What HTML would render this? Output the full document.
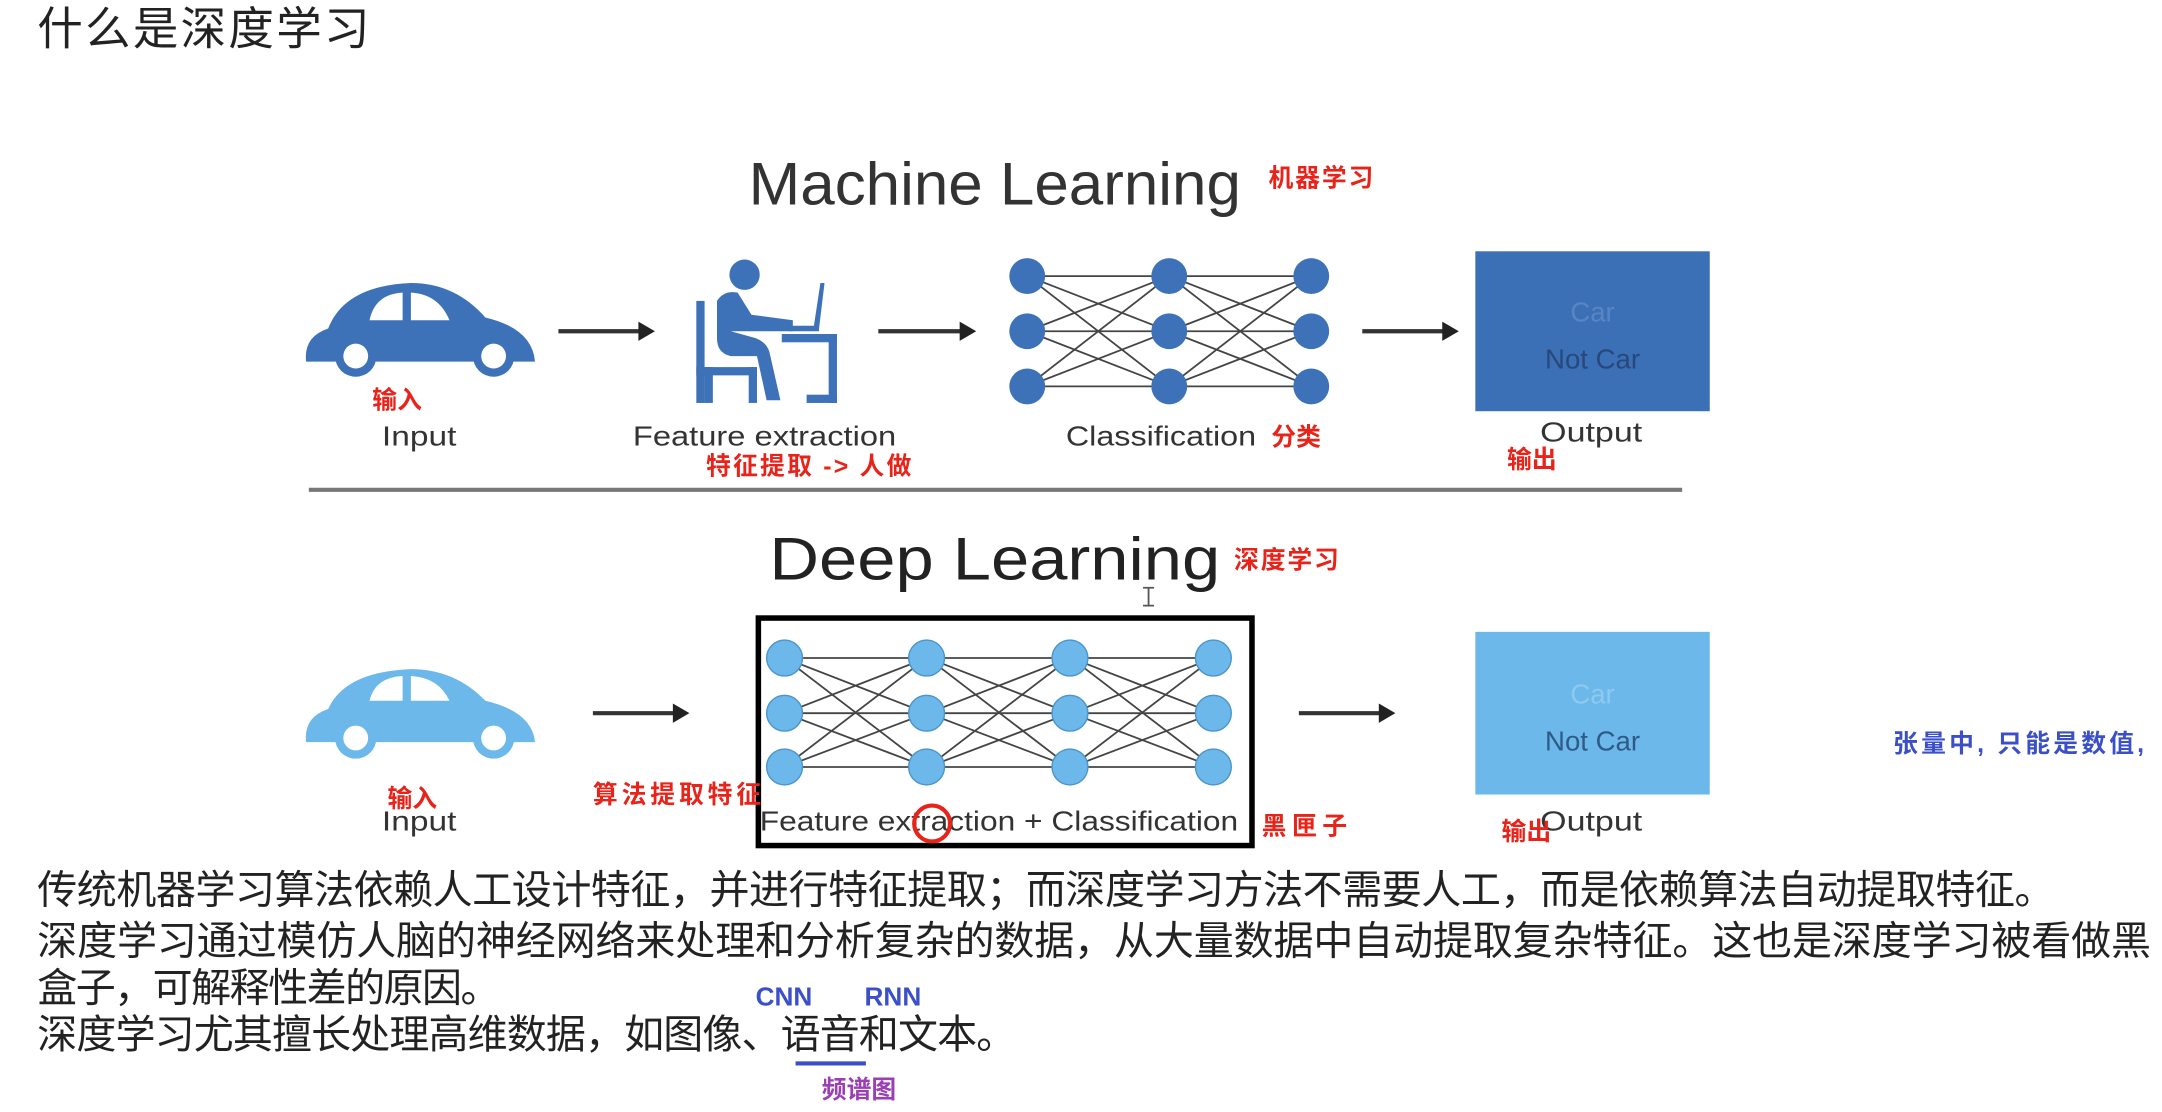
<!DOCTYPE html>
<html><head><meta charset="utf-8"><style>
html,body{margin:0;padding:0;background:#fff;width:2162px;height:1112px;overflow:hidden}
svg{display:block}
.en{font-family:"Liberation Sans","DejaVu Sans",sans-serif}
.cn{font-family:"Liberation Sans","Noto Sans CJK SC",sans-serif}
</style></head><body>
<svg width="2162" height="1112" viewBox="0 0 1568 806" xmlns="http://www.w3.org/2000/svg">
<rect width="1568" height="806" fill="#fff"/>
<text x="27" y="32" class="cn" font-size="33" fill="#222" textLength="241">什么是深度学习</text>

<!-- Machine Learning -->
<text x="543" y="148" class="en" font-size="44" fill="#333" textLength="357" lengthAdjust="spacingAndGlyphs">Machine Learning</text>
<text x="920" y="135" class="cn" font-size="18" font-weight="bold" fill="#e8231a" textLength="76">机器学习</text>

<g fill="#3d72b8">
<path d="M222,262 Q220,244 238,238 Q250,207 298,205 Q330,205 352,230 Q386,238 388,262 Z"/>
</g>
<path d="M268,232 Q272,213 292,212 L292,232 Z M298,212 Q318,213 326,232 L298,232 Z" fill="#fff"/>
<circle cx="258" cy="258" r="15" fill="#3d72b8"/><circle cx="258" cy="258" r="9" fill="#fff"/>
<circle cx="358" cy="258" r="15" fill="#3d72b8"/><circle cx="358" cy="258" r="9" fill="#fff"/>

<g stroke="#333" stroke-width="3">
<line x1="405" y1="240" x2="465" y2="240"/><line x1="637" y1="240" x2="698" y2="240"/><line x1="988" y1="240" x2="1048" y2="240"/>
</g>
<g fill="#222"><path d="M463,233 L475,240 L463,247Z"/><path d="M696,233 L708,240 L696,247Z"/><path d="M1046,233 L1058,240 L1046,247Z"/></g>

<!-- person -->
<g fill="#3d72b8">
<circle cx="540" cy="199" r="11"/>
<path d="M520,218 Q525,210 535,212 L545,228 L575,232 L575,240 L545,240 L530,240 L548,245 Q556,248 558,255 L566,290 L556,290 L549,258 L530,258 Q520,256 520,245 Z"/>
<rect x="505" y="218" width="6" height="74"/>
<rect x="505" y="266" width="44" height="6"/><rect x="511" y="266" width="6" height="26"/><rect x="543" y="266" width="6" height="26"/>
<rect x="567" y="242" width="40" height="6"/><rect x="601" y="242" width="6" height="50"/><rect x="585" y="286" width="22" height="6"/>
<path d="M590,238 L595,205 L598,205 L594,238Z"/>
<rect x="572" y="236" width="22" height="4"/>
</g>

<!-- ML network -->
<g stroke="#444" stroke-width="1.3">
<g id="lay1">
<line x1="745" y1="200" x2="848" y2="200"/><line x1="745" y1="200" x2="848" y2="240"/><line x1="745" y1="200" x2="848" y2="280"/>
<line x1="745" y1="240" x2="848" y2="200"/><line x1="745" y1="240" x2="848" y2="240"/><line x1="745" y1="240" x2="848" y2="280"/>
<line x1="745" y1="280" x2="848" y2="200"/><line x1="745" y1="280" x2="848" y2="240"/><line x1="745" y1="280" x2="848" y2="280"/>
</g>
<use href="#lay1" x="103"/>
</g>
<g fill="#3d72b8">
<circle cx="745" cy="200" r="13"/><circle cx="745" cy="240" r="13"/><circle cx="745" cy="280" r="13"/>
<circle cx="848" cy="200" r="13"/><circle cx="848" cy="240" r="13"/><circle cx="848" cy="280" r="13"/>
<circle cx="951" cy="200" r="13"/><circle cx="951" cy="240" r="13"/><circle cx="951" cy="280" r="13"/>
</g>

<rect x="1070" y="182" width="170" height="116" fill="#3b6fb6"/>
<text x="1155" y="233" class="en" font-size="20" fill="#5a85c4" text-anchor="middle">Car</text>
<text x="1155" y="267" class="en" font-size="20" fill="#27487a" text-anchor="middle">Not Car</text>

<g class="en" font-size="20" fill="#333">
<text x="277" y="323" textLength="54" lengthAdjust="spacingAndGlyphs">Input</text>
<text x="459" y="323" textLength="191" lengthAdjust="spacingAndGlyphs">Feature extraction</text>
<text x="773" y="323" textLength="138" lengthAdjust="spacingAndGlyphs">Classification</text>
<text x="1117" y="320" textLength="74" lengthAdjust="spacingAndGlyphs">Output</text>
</g>
<g class="cn" font-size="18" font-weight="bold" fill="#e8231a">
<text x="270" y="296">输入</text>
<text x="922" y="323">分类</text>
<text x="512" y="344" textLength="149">特征提取 -&gt; 人做</text>
<text x="1093" y="339">输出</text>
</g>

<line x1="224" y1="355" x2="1220" y2="355" stroke="#777" stroke-width="3"/>

<!-- Deep Learning -->
<text x="558" y="420" class="en" font-size="44" fill="#222" textLength="327" lengthAdjust="spacingAndGlyphs">Deep Learning</text>
<text x="895" y="412" class="cn" font-size="18" font-weight="bold" fill="#e8231a" textLength="76">深度学习</text>
<path d="M829,426 L837,426 M833,426 L833,439 M829,439 L837,439" stroke="#555" stroke-width="1.3"/>

<g fill="#6cb8ea">
<path d="M222,538 Q220,520 238,514 Q250,487 298,485 Q330,485 352,508 Q386,516 388,538 Z"/>
</g>
<path d="M268,508 Q272,491 292,490 L292,508 Z M298,490 Q318,491 326,508 L298,508 Z" fill="#fff"/>
<circle cx="258" cy="535" r="15" fill="#6cb8ea"/><circle cx="258" cy="535" r="9" fill="#fff"/>
<circle cx="358" cy="535" r="15" fill="#6cb8ea"/><circle cx="358" cy="535" r="9" fill="#fff"/>

<g stroke="#333" stroke-width="3">
<line x1="430" y1="517" x2="490" y2="517"/><line x1="942" y1="517" x2="1002" y2="517"/>
</g>
<g fill="#222"><path d="M488,510 L500,517 L488,524Z"/><path d="M1000,510 L1012,517 L1000,524Z"/></g>

<rect x="550" y="448" width="358" height="165" fill="none" stroke="#000" stroke-width="4"/>
<g stroke="#444" stroke-width="1.3">
<g id="lay">
<line x1="569" y1="477" x2="672" y2="477"/><line x1="569" y1="477" x2="672" y2="517"/><line x1="569" y1="477" x2="672" y2="556"/>
<line x1="569" y1="517" x2="672" y2="477"/><line x1="569" y1="517" x2="672" y2="517"/><line x1="569" y1="517" x2="672" y2="556"/>
<line x1="569" y1="556" x2="672" y2="477"/><line x1="569" y1="556" x2="672" y2="517"/><line x1="569" y1="556" x2="672" y2="556"/>
</g>
<use href="#lay" x="104"/><use href="#lay" x="208"/>
</g>
<g fill="#6cb8ea" stroke="#4a95cc" stroke-width="1">
<circle cx="569" cy="477" r="13"/><circle cx="569" cy="517" r="13"/><circle cx="569" cy="556" r="13"/>
<circle cx="672" cy="477" r="13"/><circle cx="672" cy="517" r="13"/><circle cx="672" cy="556" r="13"/>
<circle cx="776" cy="477" r="13"/><circle cx="776" cy="517" r="13"/><circle cx="776" cy="556" r="13"/>
<circle cx="880" cy="477" r="13"/><circle cx="880" cy="517" r="13"/><circle cx="880" cy="556" r="13"/>
</g>

<rect x="1070" y="458" width="170" height="118" fill="#6cb8ea"/>
<text x="1155" y="510" class="en" font-size="20" fill="#8ccaf0" text-anchor="middle">Car</text>
<text x="1155" y="544" class="en" font-size="20" fill="#2f5a85" text-anchor="middle">Not Car</text>

<g class="en" font-size="20" fill="#333">
<text x="277" y="602" textLength="54" lengthAdjust="spacingAndGlyphs">Input</text>
<text x="551" y="602" textLength="347" lengthAdjust="spacingAndGlyphs">Feature extraction + Classification</text>
<text x="1117" y="602" textLength="74" lengthAdjust="spacingAndGlyphs">Output</text>
</g>
<circle cx="676" cy="597" r="13" fill="none" stroke="#e8231a" stroke-width="3"/>
<g class="cn" font-size="18" font-weight="bold" fill="#e8231a">
<text x="281" y="585">输入</text>
<text x="430" y="582" textLength="122">算法提取特征</text>
<text x="915" y="605" textLength="62">黑匣子</text>
<text x="1089" y="609">输出</text>
</g>
<text x="1373" y="545" class="cn" font-size="18" font-weight="bold" fill="#3a4fc8" textLength="182">张量中, 只能是数值,</text>

<g class="cn" font-size="29" fill="#222">
<text x="27" y="655" textLength="1463">传统机器学习算法依赖人工设计特征，并进行特征提取；而深度学习方法不需要人工，而是依赖算法自动提取特征。</text>
<text x="27" y="692" textLength="1533">深度学习通过模仿人脑的神经网络来处理和分析复杂的数据，从大量数据中自动提取复杂特征。这也是深度学习被看做黑</text>
<text x="27" y="726" textLength="336">盒子，可解释性差的原因。</text>
<text x="27" y="760" textLength="710">深度学习尤其擅长处理高维数据，如图像、语音和文本。</text>
</g>
<g class="en" font-size="19" font-weight="bold" fill="#3a4fc8">
<text x="548" y="729">CNN</text><text x="627" y="729">RNN</text>
</g>
<line x1="577" y1="771" x2="628" y2="771" stroke="#3a4fc8" stroke-width="3"/>
<text x="596" y="796" class="cn" font-size="18" font-weight="bold" fill="#9b3fb5">频谱图</text>
</svg>
</body></html>
